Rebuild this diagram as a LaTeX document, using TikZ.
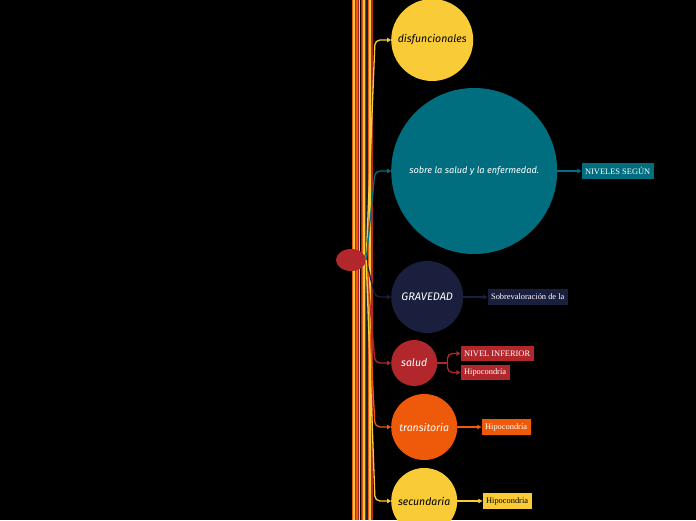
\documentclass[tikz,border=0pt]{standalone}
\usepackage{fontspec}
\setmainfont{Liberation Serif}
\newfontfamily\handfont{Fira Sans}
\usetikzlibrary{arrows.meta, positioning, shapes.geometric}
\definecolor{ymind}{HTML}{F9CB36}
\definecolor{tmind}{HTML}{006E7F}
\definecolor{nmind}{HTML}{1B1F3E}
\definecolor{rmind}{HTML}{B1272C}
\definecolor{omind}{HTML}{EF5A0A}

\begin{document}
\begin{tikzpicture}[x=1pt, y=-1pt, node distance=24pt,
  bubble/.style={circle, inner sep=0pt, anchor=west, font=\handfont\itshape\fontsize{10.5}{12}\selectfont, text=white},
  tag/.style={rectangle, inner xsep=3.5pt, inner ysep=2pt, minimum height=15.5pt, font=\fontsize{8.4}{10}\selectfont, text=white},
  link/.style={line width=1.3pt, rounded corners=5pt, -{Triangle[length=4pt, width=4.5pt]}}]
    \fill[black] (0,0) rectangle (696,520);
    \useasboundingbox (0,0) rectangle (696,520);

    % Bundle
    \foreach \i/\c in {0/omind, 1/ymind, 2/tmind, 3/omind, 4/rmind, 5/ymind, 6/tmind, 7/omind, 8/ymind, 9/rmind, 10/nmind, 11/omind, 12/ymind, 13/tmind, 14/rmind}
        \draw[\c, line width=1.3pt] (352.5+\i*1.45, 0) -- (352.5+\i*1.45, 520);
    \node[ellipse, fill=rmind, inner sep=0pt, minimum width=30pt, minimum height=22pt] (hub) at (351,260) {};

    % Bubbles
    \node[bubble, fill=ymind, text=black, minimum size=82pt] (disf) at (391,40) {disfuncionales};
    \node[bubble, fill=tmind, minimum size=166pt, font=\handfont\itshape\fontsize{9.2}{11}\selectfont] (sobre) at (391,171) {sobre la salud y la enfermedad.};
    \node[bubble, fill=nmind, minimum size=72pt, font=\handfont\itshape\fontsize{11}{12}\selectfont] (grav) at (391,297) {GRAVEDAD};
    \node[bubble, fill=rmind, minimum size=46pt] (salud) at (391,363) {salud};
    \node[bubble, fill=omind, minimum size=66pt] (trans) at (391,427) {transitoria};
    \node[bubble, fill=ymind, text=black, minimum size=66pt] (secu) at (391,501) {secundaria};

    \draw[link, ymind] (hub.east) -- (375,40) -- (disf.west);
    \draw[link, tmind] (hub.east) -- (375,171) -- (sobre.west);
    \draw[link, nmind] (hub.east) -- (375,297) -- (grav.west);
    \draw[link, rmind] (hub.east) -- (375,363) -- (salud.west);
    \draw[link, omind] (hub.east) -- (375,427) -- (trans.west);
    \draw[link, ymind] (hub.east) -- (375,501) -- (secu.west);

    % Tags
    \node[tag, fill=tmind, right=of sobre] (niveles) {NIVELES SEGÚN};
    \node[tag, fill=nmind, right=of grav] (sobrev) {Sobrevaloración de la};
    \node[tag, fill=rmind, right=23pt of salud, yshift=9.5pt] (inferior) {NIVEL INFERIOR};
    \node[tag, fill=rmind, right=23pt of salud, yshift=-9.5pt] (hipoa) {Hipocondría};
    \node[tag, fill=omind, right=of trans] (hipob) {Hipocondría};
    \node[tag, fill=ymind, text=black, right=25pt of secu] (hipoc) {Hipocondria};

    \draw[link, tmind] (sobre.east) -- (niveles.west);
    \draw[link, nmind] (grav.east) -- (sobrev.west);
    \coordinate[right=10pt of salud] (fork);
    \draw[rmind, line width=1.3pt] (salud.east) -- (fork);
    \draw[link, rmind] (fork) |- (inferior.west);
    \draw[link, rmind] (fork) |- (hipoa.west);
    \draw[link, omind] (trans.east) -- (hipob.west);
    \draw[link, ymind] (secu.east) -- (hipoc.west);
\end{tikzpicture}
\end{document}
